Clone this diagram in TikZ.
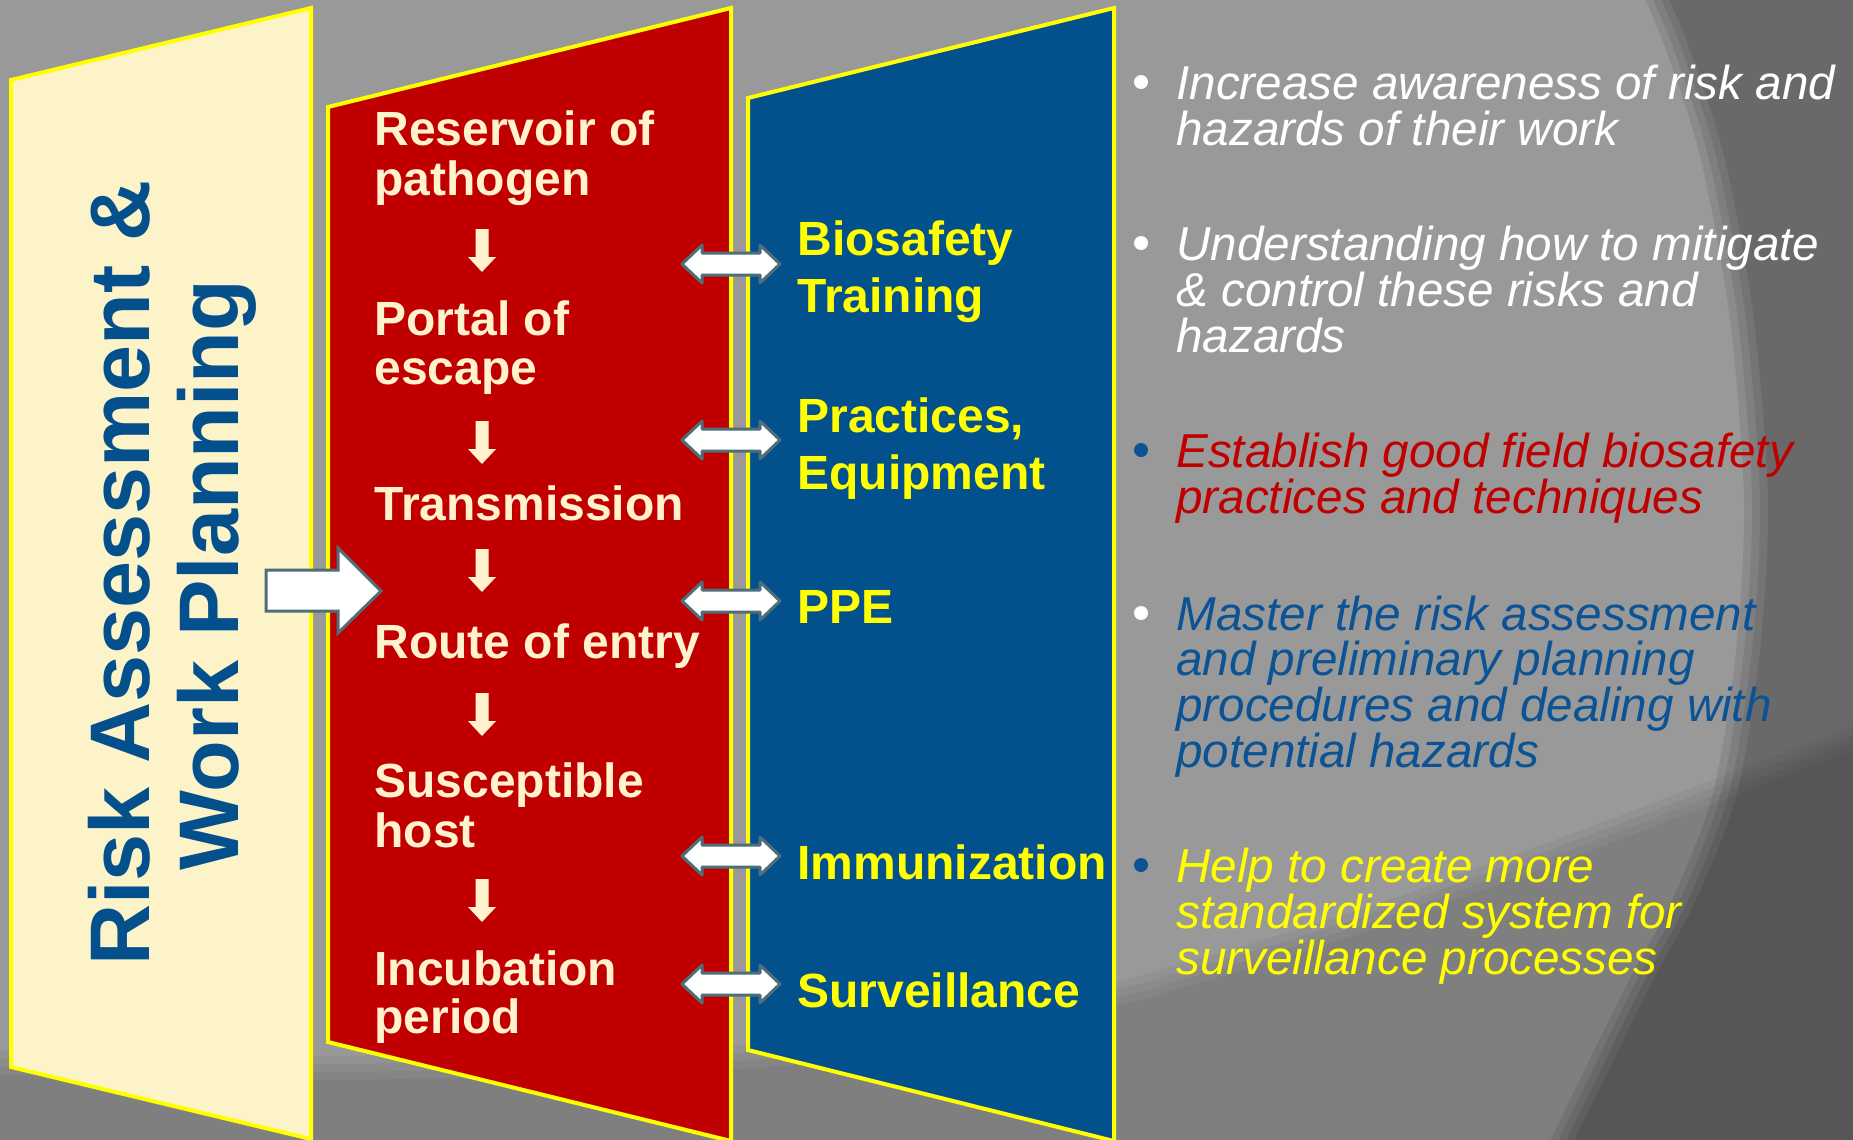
\documentclass[tikz,border=0pt]{standalone}
\usepackage{fontspec}
\setmainfont{Liberation Sans}
\usetikzlibrary{calc}
\definecolor{bggray}{HTML}{999999}
\definecolor{creamfill}{HTML}{FCF3C8}
\definecolor{creamtxt}{HTML}{FFF2CC}
\definecolor{panelred}{HTML}{C00000}
\definecolor{panelblue}{HTML}{02518D}
\definecolor{panelyellow}{HTML}{FFFF00}
\definecolor{titleblue}{HTML}{03508D}
\definecolor{itemblue}{HTML}{0B5394}
\definecolor{itemred}{HTML}{C00000}
\definecolor{arrowedge}{HTML}{4F6D7A}
\begin{document}
\begin{tikzpicture}[x=0.5pt,y=-0.5pt,
  panel/.style={draw=panelyellow, line width=2pt, line join=miter},
  redtxt/.style={anchor=base west, inner sep=0pt, text=creamtxt, font=\bfseries\fontsize{24}{24}\selectfont},
  bluetxt/.style={anchor=base west, inner sep=0pt, text=panelyellow, font=\bfseries\fontsize{24}{24}\selectfont},
  righttxt/.style={anchor=base west, inner sep=0pt, font=\itshape\fontsize{23.8}{23.8}\selectfont},
  covtxt/.style={anchor=base, inner sep=0pt, rotate=90, text=titleblue, font=\bfseries\fontsize{42.3}{42.3}\selectfont},
  bulletdot/.style={circle, inner sep=0pt, minimum size=7pt},
  downarr/.pic={\fill[creamtxt] (-6.5,0) -- (6.5,0) -- (6.5,28) -- (14,28) -- (0,43) -- (-14,28) -- (-6.5,28) -- cycle;},
  dblarr/.pic={\filldraw[fill=white, draw=arrowedge, line width=1.5pt, line join=round]
     (-49,0) -- (-29,-19) -- (-29,-11) -- (29,-11) -- (29,-19) -- (49,0) -- (29,19) -- (29,11) -- (-29,11) -- (-29,19) -- cycle;}
]
\useasboundingbox (0,0) rectangle (1853,1140);
\begin{scope}
\clip (0,0) rectangle (1853,1140);
% background with soft-edged darker regions
\fill[bggray] (0,0) rectangle (1853,1140);
\foreach \dx in {-12,-4,4,12}{
  \fill[black, opacity=.085, xshift=\dx*0.5pt] plot[smooth] coordinates {(1655,-5) (1678,50) (1713,160) (1742,320) (1756,500) (1748,650) (1725,793) (1684,900) (1636,990) (1560,1145)} -- (1880,1145) -- (1880,-5) -- cycle;
}
\foreach \dy in {-12,-4,4,12}{
  \fill[black, opacity=.044, yshift=\dy*0.5pt] plot[smooth] coordinates {(-25,1062) (320,1068) (740,1057) (1000,1025) (1122,993) (1350,925) (1587,840) (1878,728)} -- (1878,1165) -- (-25,1165) -- cycle;
}
% panels
\filldraw[panel, fill=creamfill] (11,80) -- (311,8) -- (311,1139) -- (11,1067) -- cycle;
\filldraw[panel, fill=panelred] (328,107) -- (731,8) -- (731,1141) -- (328,1042) -- cycle;
\filldraw[panel, fill=panelblue] (748,98) -- (1114,8) -- (1114,1141) -- (748,1050) -- cycle;
\end{scope}
\coordinate (creamR) at (311,591);
\coordinate (redL) at (381,591);
% title in cream panel
\node[covtxt] (title1) at (149,573) {Risk Assessment \&};
\node[covtxt] (title2) at (238,575) {Work Planning};
% big arrow
\filldraw[fill=white, draw=arrowedge, line width=1.5pt, line join=miter]
  (266,570) -- (338,570) -- (338,548) -- (redL) -- (338,633) -- (338,611) -- (266,611) -- cycle;
% red panel chain
\node[redtxt] (c1a) at (374,145) {Reservoir of};
\node[redtxt] (c1b) at (374,195) {pathogen};
\node[redtxt] (c2a) at (374,335) {Portal of};
\node[redtxt] (c2b) at (374,384) {escape};
\node[redtxt] (c3)  at (374,520) {Transmission};
\node[redtxt] (c4)  at (374,658) {Route of entry};
\node[redtxt] (c5a) at (374,797) {Susceptible};
\node[redtxt] (c5b) at (374,847) {host};
\node[redtxt] (c6a) at (374,985) {Incubation};
\node[redtxt] (c6b) at (374,1033) {period};
\pic (d1) at (482,229) {downarr};
\pic (d2) at (482,421) {downarr};
\pic (d3) at (482,549) {downarr};
\pic (d4) at (482,693) {downarr};
\pic (d5) at (482,879) {downarr};
% blue panel
\node[bluetxt] (m1a) at (797,255) {Biosafety};
\node[bluetxt] (m1b) at (797,312) {Training};
\node[bluetxt] (m2a) at (797,432) {Practices,};
\node[bluetxt] (m2b) at (797,489) {Equipment};
\node[bluetxt] (m3)  at (797,623) {PPE};
\node[bluetxt] (m4)  at (797,879) {Immunization};
\node[bluetxt] (m5)  at (797,1007) {Surveillance};
\pic (a1) at (731,264) {dblarr};
\pic (a2) at (731,440) {dblarr};
\pic (a3) at (731,601) {dblarr};
\pic (a4) at (731,856) {dblarr};
\pic (a5) at (731,984) {dblarr};
% right items
\node[bulletdot, fill=white] (b1) at (1141,82) {};
\node[righttxt, text=white] (t1a) at (1176,99) {Increase awareness of risk and};
\node[righttxt, text=white] (t1b) at (1176,145) {hazards of their work};
\node[bulletdot, fill=white] (b2) at (1141,243) {};
\node[righttxt, text=white] (t2a) at (1176,260) {Understanding how to mitigate};
\node[righttxt, text=white] (t2b) at (1176,306) {\& control these risks and};
\node[righttxt, text=white] (t2c) at (1176,352) {hazards};
\node[bulletdot, fill=itemblue] (b3) at (1141,450) {};
\node[righttxt, text=itemred] (t3a) at (1176,467) {Establish good field biosafety};
\node[righttxt, text=itemred] (t3b) at (1176,513) {practices and techniques};
\node[bulletdot, fill=white] (b4) at (1141,613) {};
\node[righttxt, text=itemblue] (t4a) at (1176,630) {Master the risk assessment};
\node[righttxt, text=itemblue] (t4b) at (1176,675) {and preliminary planning};
\node[righttxt, text=itemblue] (t4c) at (1176,721) {procedures and dealing with};
\node[righttxt, text=itemblue] (t4d) at (1176,767) {potential hazards};
\node[bulletdot, fill=itemblue] (b5) at (1141,865) {};
\node[righttxt, text=panelyellow] (t5a) at (1176,882) {Help to create more};
\node[righttxt, text=panelyellow] (t5b) at (1176,928) {standardized system for};
\node[righttxt, text=panelyellow] (t5c) at (1176,974) {surveillance processes};
\end{tikzpicture}
\end{document}
